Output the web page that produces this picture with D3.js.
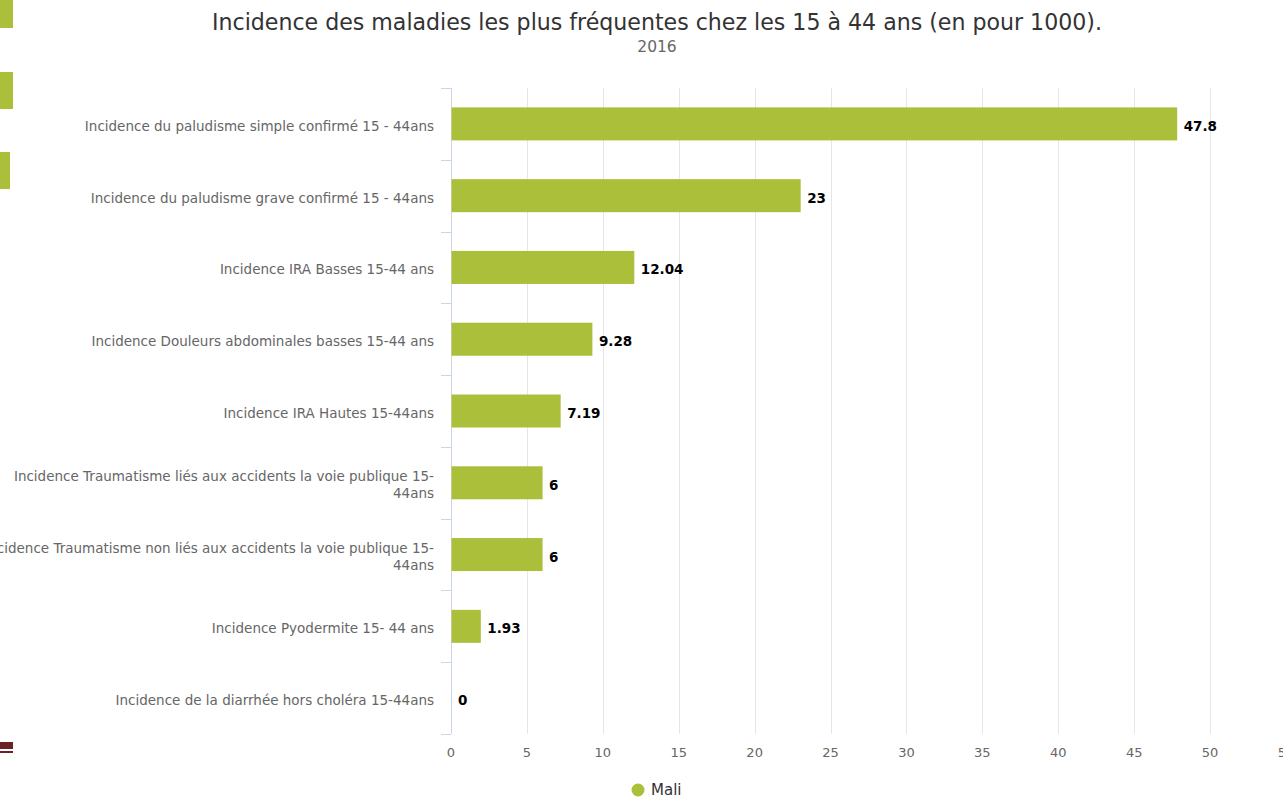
<!DOCTYPE html>
<html>
<head>
<meta charset="utf-8">
<script src="https://cdn.jsdelivr.net/npm/d3@7"></script>
<style>
  body { margin: 0; background: #fff; overflow: hidden; }
  svg { font-family: "DejaVu Sans", sans-serif; }
</style>
</head>
<body>
<svg id="chart" width="1283" height="798"></svg>
<script>
// data
let categories = [
  "Incidence du paludisme simple confirmé 15 - 44ans",
  "Incidence du paludisme grave confirmé 15 - 44ans",
  "Incidence IRA Basses 15-44 ans",
  "Incidence Douleurs abdominales basses 15-44 ans",
  "Incidence IRA Hautes 15-44ans",
  "Incidence Traumatisme liés aux accidents la voie publique 15-44ans",
  "Incidence Traumatisme non liés aux accidents la voie publique 15-44ans",
  "Incidence Pyodermite 15- 44 ans",
  "Incidence de la diarrhée hors choléra 15-44ans"
];
let maliValues = [47.8, 23, 12.04, 9.28, 7.19, 6, 6, 1.93, 0];
let xTicks = [0, 5, 10, 15, 20, 25, 30, 35, 40, 45, 50, 55];
let seriesName = "Mali";

let margin = {top: 88, left: 451};
let plotW = 835, plotH = 646;
let barColor = "#abbf3b";

let svg = d3.select("#chart");

// stray clipped shapes at the left edge
svg.append("rect").attr("x", 0).attr("y", 0).attr("width", 13).attr("height", 28).attr("fill", barColor);
svg.append("rect").attr("x", 0).attr("y", 72).attr("width", 13).attr("height", 37).attr("fill", barColor);
svg.append("rect").attr("x", 0).attr("y", 152).attr("width", 10).attr("height", 37).attr("fill", barColor);
svg.append("rect").attr("x", 0).attr("y", 742).attr("width", 13).attr("height", 7).attr("fill", "#6b2226");
svg.append("rect").attr("x", 0).attr("y", 751).attr("width", 13).attr("height", 2).attr("fill", "#6b2226");

svg.append("text")
  .text("Incidence des maladies les plus fréquentes chez les 15 à 44 ans (en pour 1000).")
  .attr("x", 657).attr("y", 30)
  .attr("text-anchor", "middle")
  .attr("font-size", "22.1px")
  .attr("fill", "#333333");

svg.append("text")
  .text("2016")
  .attr("x", 657).attr("y", 52)
  .attr("text-anchor", "middle")
  .attr("font-size", "15.5px")
  .attr("fill", "#666666");

let g = svg.append("g").attr("transform", "translate(" + margin.left + "," + margin.top + ")");

let x = d3.scaleLinear().domain([0, 55]).range([0, plotW]);
let y = d3.scaleBand().domain(categories).range([0, plotH]);

// grid
g.selectAll(".grid")
  .data(xTicks.filter(d => d > 0))
  .enter().append("line")
  .attr("x1", d => Math.round(x(d)) + 0.5)
  .attr("x2", d => Math.round(x(d)) + 0.5)
  .attr("y1", 0).attr("y2", plotH)
  .attr("stroke", "#e6e6e6");

// x labels
g.selectAll(".xlab")
  .data(xTicks)
  .enter().append("text")
  .text(d => d)
  .attr("x", d => x(d))
  .attr("y", plotH + 23)
  .attr("text-anchor", "middle")
  .attr("font-size", "13px")
  .attr("fill", "#666666");

// category axis
g.append("line")
  .attr("x1", 0.5).attr("x2", 0.5)
  .attr("y1", 0).attr("y2", plotH)
  .attr("stroke", "#ccd6eb");

let bounds = categories.map(c => y(c)).concat([plotH]);
g.selectAll(".ytick")
  .data(bounds)
  .enter().append("line")
  .attr("x1", -10).attr("x2", 0)
  .attr("y1", d => Math.round(d) + 0.5)
  .attr("y2", d => Math.round(d) + 0.5)
  .attr("stroke", "#ccd6eb");

// category labels, wrapped
let maxLabelW = 455;
let labels = g.selectAll(".ylab")
  .data(categories)
  .enter().append("text")
  .attr("text-anchor", "end")
  .attr("font-size", "13.5px")
  .attr("fill", "#666666");

labels.each(function(d) {
  let t = d3.select(this);
  let words = d.split(/(?<=[ -])/);
  let lines = [];
  let line = "";
  let tmp = t.append("tspan");
  words.forEach(w => {
    tmp.text(line + w);
    if (line !== "" && tmp.node().getComputedTextLength() > maxLabelW) {
      lines.push(line.trim());
      line = w;
    } else {
      line = line + w;
    }
  });
  lines.push(line.trim());
  tmp.remove();
  let cy = y(d) + y.bandwidth() / 2;
  let lh = 17;
  let y0 = cy + 7 - (lines.length - 1) * lh / 2;
  lines.forEach((l, i) => {
    t.append("tspan").text(l).attr("x", -17).attr("y", y0 + i * lh);
  });
});

// bars
let barH = 33;
g.selectAll(".bar")
  .data(maliValues)
  .enter().append("rect")
  .attr("x", 0.5)
  .attr("y", (d, i) => y(categories[i]) + (y.bandwidth() - barH) / 2)
  .attr("width", d => x(d))
  .attr("height", barH)
  .attr("fill", barColor);

// value labels
g.selectAll(".val")
  .data(maliValues)
  .enter().append("text")
  .text(d => d)
  .attr("x", d => x(d) + 7)
  .attr("y", (d, i) => y(categories[i]) + y.bandwidth() / 2 + 7)
  .attr("font-size", "13.5px")
  .attr("font-weight", "bold")
  .attr("fill", "#000000");

// legend
svg.append("circle").attr("cx", 638).attr("cy", 790).attr("r", 6.5).attr("fill", barColor);
svg.append("text").text(seriesName)
  .attr("x", 651).attr("y", 795)
  .attr("font-size", "15px")
  .attr("fill", "#333333");
</script>
</body>
</html>
